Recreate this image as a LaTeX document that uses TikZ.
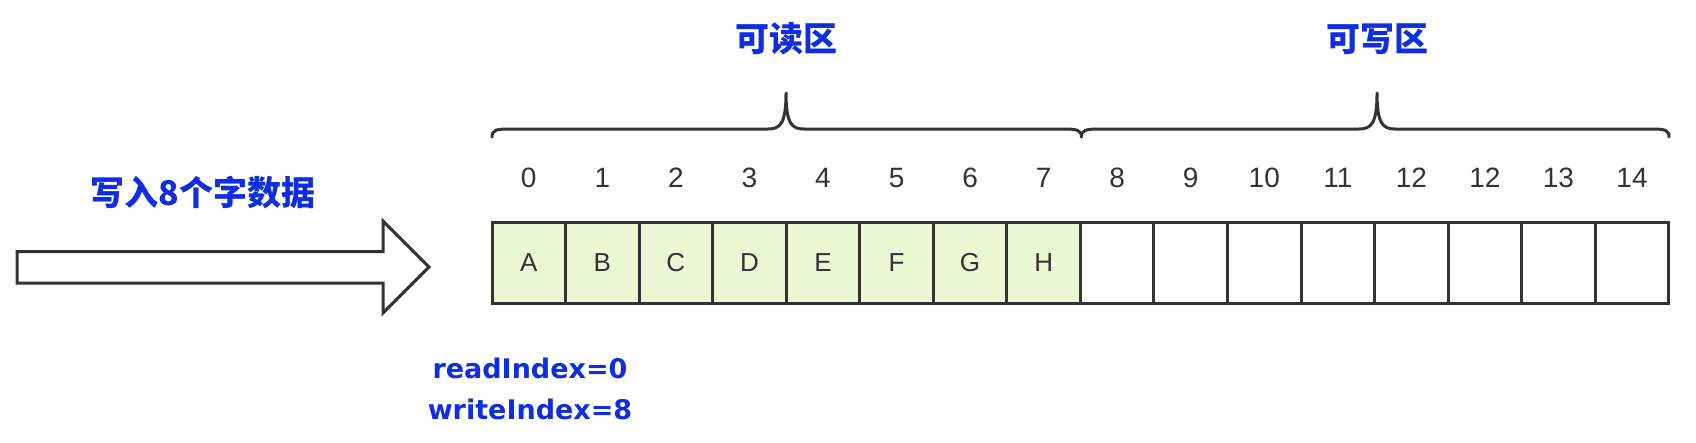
\documentclass[tikz,border=0pt]{standalone}
\usepackage{fontspec}
\setmainfont{Liberation Sans}
\newfontfamily\cjk{Noto Sans CJK SC}
\newfontfamily\lat{DejaVu Sans}
\definecolor{lbl}{RGB}{15,45,225}
\definecolor{ln}{RGB}{51,51,51}
\definecolor{gfill}{RGB}{234,248,212}
\begin{document}
\begin{tikzpicture}[x=1pt,y=-1pt,
  cell/.style={draw=ln,line width=3pt,minimum width=73.55pt,minimum height=81pt,inner sep=0pt,anchor=center,font=\fontsize{26}{30}\selectfont,text=ln},
  full/.style={cell,fill=gfill},
  idx/.style={font=\fontsize{28}{32}\selectfont,text=ln,inner sep=0pt},
  title/.style={font=\cjk\bfseries\fontsize{34}{40}\selectfont,text=lbl,inner sep=0pt},
  ptr/.style={font=\lat\bfseries\fontsize{27}{32}\selectfont,text=lbl,inner sep=0pt},
  brace/.style={draw=ln,line width=3pt,line cap=round,line join=round},
  bigarrow/.style={draw=ln,line width=3pt,fill=white,line join=miter}
]
\useasboundingbox (0,0) rectangle (1696,442);
% big arrow
\draw[bigarrow] (17,251.5) -- (383,251.5) -- (383,221) -- (429,267) -- (383,313) -- (383,283) -- (17,283) -- cycle;
\node[title] (wr) at (203,193) {写入8个字数据};
% cells
\foreach \i/\t in {0/A,1/B,2/C,3/D,4/E,5/F,6/G,7/H}
  \node[full] (c\i) at ({492+73.55*(\i+0.5)},262.5) {\t};
\foreach \i in {8,...,15}
  \node[cell] (c\i) at ({492+73.55*(\i+0.5)},262.5) {};
% indices
\foreach \i/\t in {0/0,1/1,2/2,3/3,4/4,5/5,6/6,7/7,8/8,9/9,10/10,11/11,12/12,13/12,14/13,15/14}
  \node[idx] (n\i) at ({492+73.55*(\i+0.5)},178) {\t};
% braces
\coordinate (b0) at (492,137);
\coordinate (b1) at (1081.4,137);
\coordinate (b2) at (1669,137);
\draw[brace] (b0) .. controls (492,130) and (496,129) .. (510,129) -- (768,129)
  .. controls (780,129) and (786,124) .. (786,93)
  .. controls (786,124) and (792,129) .. (804,129) -- (1063,129)
  .. controls (1077,129) and (1081.4,130) .. (b1);
\draw[brace] (b1) .. controls (1081.4,130) and (1086,129) .. (1100,129) -- (1359,129)
  .. controls (1371,129) and (1377,124) .. (1377,93)
  .. controls (1377,124) and (1383,129) .. (1395,129) -- (1651,129)
  .. controls (1665,129) and (1669,130) .. (b2);
\node[title] (rd) at (786,39) {可读区};
\node[title] (wt) at (1377,39) {可写区};
% pointers
\node[ptr] (ri) at (530,368) {readIndex=0};
\node[ptr] (wi) at (530,409) {writeIndex=8};
\end{tikzpicture}
\end{document}
